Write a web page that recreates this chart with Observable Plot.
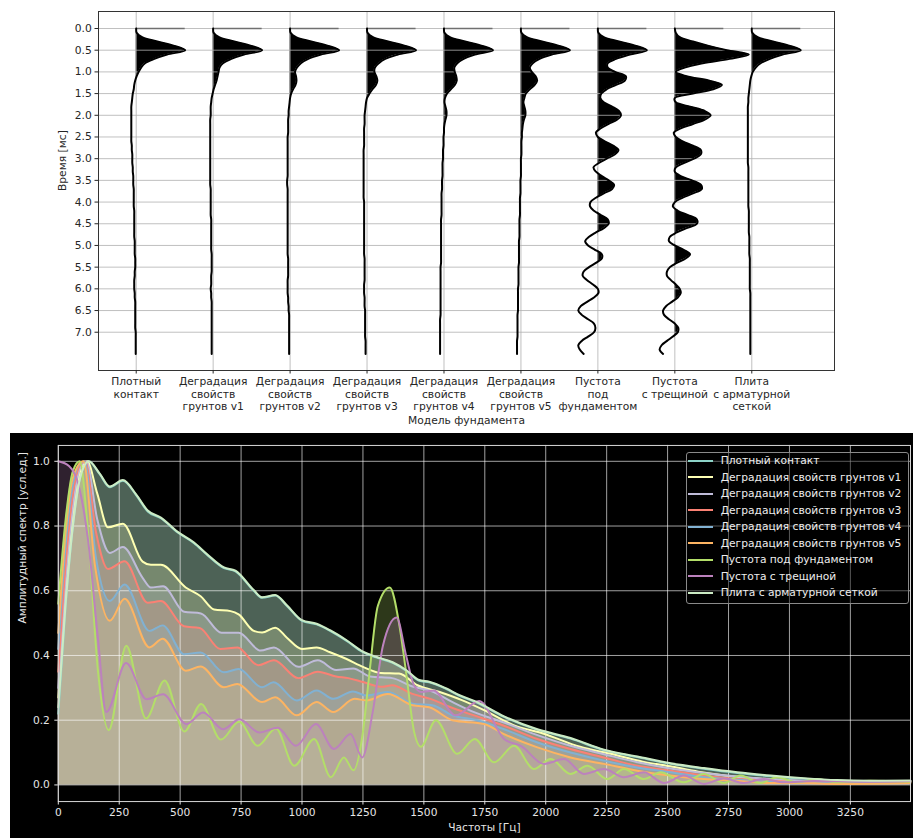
<!DOCTYPE html>
<html><head><meta charset="utf-8">
<script src="https://cdn.jsdelivr.net/npm/d3@7"></script>
<script src="https://cdn.jsdelivr.net/npm/@observablehq/plot@0.6"></script>
<style>
body{margin:0;background:#fff;font-family:"DejaVu Sans",sans-serif;}
#top{width:913px;height:433px;overflow:hidden;}
#bottomWrap{position:relative;width:913px;height:405px;background:#fff;overflow:hidden;}
#bottom{position:absolute;left:10px;top:0;width:903px;height:405px;background:#000;overflow:hidden;}
#legend{position:absolute;left:685.7px;top:18.7px;width:221px;height:148.5px;padding-bottom:2px;
  border:1px solid #8a8a8a;border-radius:3px;background:rgba(0,0,0,0.45);box-sizing:content-box;}
.row{height:16.5px;display:flex;align-items:center;font-size:10.7px;color:#eeeeee;white-space:nowrap;}
.sw{display:inline-block;width:24.4px;height:2px;margin-left:1.6px;margin-right:8px;}
</style></head>
<body>
<div id="top"></div>
<div id="bottomWrap"><div id="bottom"></div><div id="legend"></div></div>
<script>
// ---------- Top chart: wiggle traces ----------
const traceLabels = [
  "Плотный\nконтакт",
  "Деградация\nсвойств\nгрунтов v1",
  "Деградация\nсвойств\nгрунтов v2",
  "Деградация\nсвойств\nгрунтов v3",
  "Деградация\nсвойств\nгрунтов v4",
  "Деградация\nсвойств\nгрунтов v5",
  "Пустота\nпод\nфундаментом",
  "Пустота\nс трещиной",
  "Плита\nс арматурной\nсеткой"
];
const timeTicks = [0,0.5,1,1.5,2,2.5,3,3.5,4,4.5,5,5.5,6,6.5,7];
// time grid, ms (0.0 ... 7.5 step 0.1)
const time = d3.range(76).map(i => Math.round(i) / 10);
// amplitudes in % of the first arrival peak
const ampPlotny = [
  0,1,12,43,78,100,63,37,18,10,
  5,1,-2,-4,-5,-7,-8,-9,-10,-10,
  -10,-10,-10,-10,-10,-10,-10,-9,-9,-8,
  -8,-8,-7,-7,-6,-6,-6,-5,-5,-5,
  -5,-5,-4,-4,-4,-4,-4,-4,-4,-3,
  -3,-3,-3,-2,-2,-2,-3,-3,-4,-4,
  -4,-3,-3,-2,-2,-2,-2,-2,-2,-2,
  -1,-1,-1,-1,-1,-1];
const ampV1 = [
  0,1,12,43,78,100,63,37,20,13,
  11,9,7,4,1,-1,-3,-4,-5,-5,
  -5,-6,-6,-6,-6,-6,-6,-6,-6,-6,
  -6,-6,-6,-6,-6,-6,-6,-5,-5,-5,
  -5,-5,-5,-5,-4,-4,-4,-4,-4,-4,
  -4,-4,-3,-3,-3,-3,-3,-4,-4,-4,
  -5,-4,-4,-3,-3,-3,-3,-3,-3,-3,
  -3,-3,-3,-3,-3,-3];
const ampV2 = [
  0,1,12,43,78,100,63,37,22,14,
  10,12,13,11,6,2,0,-1,-2,-3,
  -3,-4,-4,-4,-4,-5,-5,-5,-5,-5,
  -5,-5,-5,-5,-5,-6,-6,-5,-5,-5,
  -5,-5,-5,-5,-5,-5,-5,-5,-5,-5,
  -5,-5,-5,-4,-4,-4,-4,-4,-5,-5,
  -5,-5,-4,-4,-3,-3,-2,-2,-2,-2,
  -2,-2,-2,-2,-2,-2];
const ampV3 = [
  0,1,12,43,78,100,63,37,24,16,
  15,19,21,18,11,5,0,-2,-3,-4,
  -5,-5,-5,-6,-6,-6,-6,-6,-7,-7,
  -7,-7,-7,-7,-7,-7,-7,-7,-7,-7,
  -6,-6,-6,-6,-6,-6,-6,-6,-6,-6,
  -6,-6,-6,-5,-5,-5,-5,-5,-5,-6,
  -6,-6,-5,-5,-5,-4,-4,-4,-4,-4,
  -4,-4,-3,-3,-3,-3];
const ampV4 = [
  0,1,12,43,78,100,63,40,27,21,
  22,25,26,22,14,6,2,1,3,5,
  5,3,1,0,0,-1,-1,-1,-2,-2,
  -2,-3,-3,-3,-3,-4,-4,-4,-5,-5,
  -5,-5,-5,-5,-6,-6,-6,-6,-6,-6,
  -6,-6,-6,-6,-6,-7,-7,-7,-7,-7,
  -7,-7,-7,-7,-7,-7,-7,-8,-8,-8,
  -8,-8,-8,-8,-8,-8];
const ampV5 = [
  0,1,12,43,78,100,63,38,24,18,
  22,30,33,28,18,10,7,5,7,9,
  9,6,4,3,2,2,1,1,1,1,
  0,0,0,0,0,-1,-1,-1,-1,-2,
  -2,-2,-2,-2,-3,-3,-3,-3,-3,-4,
  -4,-4,-4,-4,-4,-5,-5,-5,-5,-5,
  -6,-6,-6,-6,-6,-6,-7,-7,-7,-7,
  -7,-7,-8,-8,-8,-8];
const ampPustotaPod = [
  0,1,12,43,78,100,65,37,20,20,
  35,57,55,37,18,7,5,12,29,43,
  47,39,22,6,-4,0,14,31,42,35,
  18,2,-9,-4,8,22,33,29,12,-4,
  -15,-16,-8,6,20,22,12,-4,-18,-26,
  -20,-6,8,8,-4,-18,-29,-31,-22,-10,
  0,1,-8,-22,-35,-40,-33,-20,-8,-5,
  -8,-20,-33,-40,-37,-29];
const ampPustotaTresh = [
  0,2,10,37,69,106,151,112,57,20,
  2,24,69,96,78,37,0,2,31,61,
  73,61,37,12,-2,2,16,37,53,53,
  39,18,2,0,12,35,53,55,37,16,
  0,-4,6,27,45,45,24,4,-10,-12,
  0,18,31,22,4,-10,-16,-16,-8,2,
  10,12,6,-6,-18,-24,-22,-12,0,7,
  6,-4,-16,-27,-31,-24];
const ampPlita = [
  0,1,12,43,78,100,63,37,18,8,
  2,-1,-3,-4,-5,-6,-7,-7,-8,-8,
  -8,-8,-8,-8,-8,-8,-8,-8,-8,-8,
  -8,-8,-7,-7,-7,-7,-7,-7,-7,-7,
  -7,-7,-6,-6,-6,-6,-6,-6,-5,-5,
  -5,-5,-5,-4,-4,-4,-4,-4,-4,-4,
  -4,-3,-3,-3,-3,-3,-3,-3,-3,-3,
  -3,-3,-3,-3,-3,-3];
const traceAmps = [ampPlotny, ampV1, ampV2, ampV3, ampV4, ampV5, ampPustotaPod, ampPustotaTresh, ampPlita];
const AMPK = 49 / 76.95; // trace-spacing units per 100 %

const rows = traceAmps.flatMap((amps, k) => amps.map((a, j) => ({
  trace: k + 1, t: time[j], base: k + 1,
  xw: k + 1 + a / 100 * AMPK,
  xf: k + 1 + Math.max(a, 0) / 100 * AMPK
})));
const traceIdx = traceAmps.map((_, k) => k + 1);

const topChart = Plot.plot({
  width: 913, height: 433,
  marginLeft: 98, marginRight: 79, marginTop: 11, marginBottom: 63,
  style: {fontFamily: "DejaVu Sans", fontSize: "10.7px", color: "#262626", background: "#fff"},
  x: {domain: [0.51, 10.075]},
  y: {domain: [-0.392, 7.882], reverse: true},
  marks: [
    Plot.areaX(rows, {y: "t", x1: "base", x2: "xf", z: "trace", fill: "black", curve: "catmull-rom"}),
    Plot.gridY({ticks: timeTicks, stroke: "#b0b0b0", strokeOpacity: 1, strokeWidth: 0.8}),
    Plot.gridX({ticks: traceIdx, stroke: "#b0b0b0", strokeOpacity: 1, strokeWidth: 0.8}),
    Plot.ruleY(traceIdx, {y: 0, x1: d => d, x2: d => d + AMPK, stroke: "#707070", strokeWidth: 1.5}),
    Plot.line(rows, {x: "xw", y: "t", z: "trace", stroke: "black", strokeWidth: 2, curve: "catmull-rom"}),
    Plot.frame({stroke: "#333"}),
    Plot.axisY({ticks: timeTicks, tickFormat: d3.format(".1f"), tickSize: 3.5, tickPadding: 3.2, label: null}),
    Plot.axisX({ticks: traceIdx, tickFormat: d => traceLabels[d - 1], tickSize: 3.5, tickPadding: 2.5, lineHeight: 1.15, label: null}),
    Plot.text(["Время [мс]"], {text: d => d, frameAnchor: "left", dx: -36, rotate: -90, fill: "#262626"}),
    Plot.text(["Модель фундамента"], {text: d => d, frameAnchor: "bottom", dy: 53, fill: "#262626"})
  ]
});
document.getElementById("top").append(topChart);

// ---------- Bottom chart: amplitude spectra ----------
const seriesNames = [
  "Плотный контакт",
  "Деградация свойств грунтов v1",
  "Деградация свойств грунтов v2",
  "Деградация свойств грунтов v3",
  "Деградация свойств грунтов v4",
  "Деградация свойств грунтов v5",
  "Пустота под фундаментом",
  "Пустота с трещиной",
  "Плита с арматурной сеткой"
];
const seriesColors = ["#8dd3c7","#feffb3","#bfbbd9","#fa8174","#81b1d2","#fdb462","#b3de69","#bc82bd","#ccebc4"];
const freqTicks = [0,250,500,750,1000,1250,1500,1750,2000,2250,2500,2750,3000,3250];
const ampTicks = [0,0.2,0.4,0.6,0.8,1.0];

// [frequency Hz, amplitude]
const spPlotny = [[0,0.22],[30,0.55],[60,0.8],[90,0.95],[125,1.0],[170,0.96],[211,0.92],[265,0.94],[320,0.895],[367,0.845],[421,0.824],[490,0.78],[557,0.747],[612,0.71],[680,0.67],[727,0.66],[802,0.60],[836,0.578],[890,0.585],[938,0.553],[1000,0.507],[1060,0.496],[1115,0.476],[1183,0.445],[1250,0.41],[1304,0.394],[1372,0.377],[1427,0.353],[1481,0.322],[1522,0.317],[1590,0.297],[1644,0.276],[1712,0.256],[1829,0.21],[1966,0.17],[2102,0.143],[2239,0.107],[2376,0.086],[2513,0.065],[2649,0.05],[2786,0.037],[2923,0.027],[3059,0.019],[3196,0.013],[3332,0.011],[3496,0.012]];
const spV1 = [[0,0.27],[30,0.6],[60,0.84],[90,0.97],[118,1.0],[160,0.9],[204,0.796],[265,0.807],[346,0.69],[380,0.68],[421,0.68],[523,0.61],[584,0.583],[639,0.542],[707,0.537],[740,0.527],[802,0.476],[836,0.471],[890,0.486],[938,0.455],[1000,0.42],[1060,0.425],[1115,0.41],[1183,0.389],[1250,0.365],[1323,0.346],[1398,0.344],[1474,0.308],[1565,0.287],[1656,0.262],[1747,0.231],[1868,0.185],[1989,0.159],[2141,0.118],[2262,0.097],[2398,0.072],[2520,0.056],[2626,0.041],[2777,0.026],[2929,0.017],[3080,0.012],[3300,0.011],[3496,0.012]];
const spV2 = [[0,0.3],[30,0.63],[60,0.86],[90,0.98],[115,1.0],[160,0.82],[211,0.717],[265,0.735],[346,0.64],[380,0.61],[430,0.614],[516,0.535],[585,0.53],[670,0.47],[740,0.47],[830,0.415],[885,0.425],[985,0.365],[1065,0.385],[1140,0.355],[1210,0.36],[1280,0.335],[1370,0.33],[1450,0.305],[1530,0.29],[1620,0.255],[1693,0.229],[1829,0.193],[1966,0.154],[2102,0.121],[2239,0.095],[2376,0.07],[2512,0.051],[2649,0.037],[2785,0.026],[2922,0.018],[3059,0.013],[3300,0.01],[3496,0.011]];
const spV3 = [[0,0.35],[30,0.68],[60,0.9],[90,0.99],[110,1.0],[155,0.78],[204,0.667],[272,0.691],[367,0.563],[421,0.568],[516,0.49],[580,0.485],[665,0.42],[735,0.425],[820,0.37],[885,0.385],[985,0.33],[1065,0.35],[1140,0.335],[1190,0.33],[1250,0.318],[1330,0.303],[1370,0.308],[1450,0.282],[1530,0.265],[1610,0.24],[1693,0.218],[1829,0.183],[1966,0.142],[2102,0.111],[2239,0.085],[2376,0.059],[2512,0.044],[2649,0.029],[2785,0.018],[2922,0.013],[3059,0.008],[3300,0.007],[3496,0.009]];
const spV4 = [[0,0.42],[30,0.74],[60,0.93],[85,0.99],[107,1.0],[155,0.7],[211,0.568],[272,0.619],[374,0.476],[428,0.493],[516,0.404],[584,0.409],[679,0.348],[740,0.358],[836,0.302],[883,0.317],[978,0.261],[1060,0.292],[1128,0.266],[1209,0.289],[1264,0.276],[1352,0.287],[1454,0.251],[1535,0.246],[1617,0.215],[1719,0.2],[1829,0.172],[1966,0.131],[2102,0.1],[2239,0.075],[2376,0.054],[2512,0.039],[2649,0.024],[2785,0.016],[2922,0.01],[3059,0.007],[3300,0.006],[3496,0.008]];
const spV5 = [[0,0.47],[30,0.78],[60,0.95],[103,1.0],[150,0.68],[211,0.507],[272,0.575],[374,0.425],[428,0.452],[523,0.353],[584,0.366],[679,0.302],[734,0.312],[836,0.256],[890,0.271],[978,0.215],[1060,0.256],[1128,0.225],[1216,0.266],[1264,0.261],[1352,0.281],[1454,0.246],[1522,0.24],[1617,0.2],[1747,0.188],[1829,0.157],[1966,0.116],[2102,0.085],[2239,0.065],[2376,0.044],[2512,0.029],[2649,0.018],[2785,0.013],[2922,0.006],[3059,0.006],[3195,0.003],[3496,0.006]];
const spPustotaPod = [[0,0.56],[30,0.82],[60,0.97],[88,1.0],[120,0.8],[163,0.35],[207,0.169],[279,0.43],[360,0.205],[436,0.323],[517,0.165],[586,0.25],[667,0.14],[742,0.195],[818,0.121],[893,0.174],[968,0.059],[1050,0.142],[1118,0.024],[1172,0.085],[1211,0.045],[1250,0.164],[1277,0.348],[1311,0.553],[1360,0.61],[1400,0.491],[1427,0.348],[1460,0.164],[1488,0.118],[1549,0.2],[1637,0.096],[1709,0.142],[1788,0.07],[1870,0.121],[1952,0.049],[2020,0.08],[2102,0.034],[2171,0.059],[2253,0.018],[2321,0.049],[2403,0.018],[2471,0.039],[2567,0.008],[2649,0.034],[2731,0.006],[2799,0.029],[2881,0.006],[2949,0.024],[3031,0.008],[3113,0.018],[3195,0.008],[3332,0.013],[3496,0.01]];
const spPustotaTresh = [[0,1.0],[45,0.985],[82,0.93],[122,0.757],[163,0.45],[197,0.225],[278,0.377],[362,0.265],[430,0.28],[526,0.188],[594,0.224],[676,0.172],[743,0.203],[825,0.162],[900,0.177],[975,0.121],[1057,0.188],[1131,0.111],[1199,0.157],[1247,0.085],[1290,0.225],[1332,0.43],[1388,0.517],[1427,0.4],[1460,0.307],[1490,0.287],[1540,0.292],[1630,0.215],[1727,0.259],[1829,0.142],[1900,0.12],[1993,0.065],[2075,0.08],[2157,0.034],[2239,0.049],[2321,0.024],[2403,0.039],[2485,0.006],[2567,0.029],[2649,0.003],[2731,0.02],[2813,0.006],[2895,0.018],[2977,0.008],[3100,0.012],[3300,0.01],[3496,0.012]];
const spPlita = [[0,0.24],[30,0.56],[60,0.8],[90,0.95],[125,1.0],[170,0.962],[211,0.922],[265,0.942],[320,0.897],[367,0.848],[421,0.826],[490,0.782],[557,0.749],[612,0.712],[680,0.672],[727,0.662],[802,0.602],[836,0.58],[890,0.587],[938,0.555],[1000,0.509],[1060,0.498],[1115,0.478],[1183,0.447],[1250,0.412],[1304,0.396],[1372,0.379],[1427,0.355],[1481,0.324],[1522,0.319],[1590,0.299],[1644,0.278],[1712,0.258],[1829,0.212],[1966,0.172],[2102,0.145],[2239,0.109],[2376,0.088],[2513,0.067],[2649,0.052],[2786,0.039],[2923,0.029],[3059,0.021],[3196,0.015],[3332,0.013],[3496,0.014]];
const spectra = [spPlotny, spV1, spV2, spV3, spV4, spV5, spPustotaPod, spPustotaTresh, spPlita];
const specRows = spectra.map(s => s.map(([f, v]) => ({f, v})));

const bottomChart = Plot.plot({
  width: 907, height: 405,
  marginLeft: 48, marginRight: 3, marginTop: 12, marginBottom: 35.3,
  style: {fontFamily: "DejaVu Sans", fontSize: "10.7px", color: "#e6e6e6", background: "#000"},
  x: {domain: [0, 3496.7]},
  y: {domain: [-0.0514, 1.049]},
  marks: [
    ...specRows.map((r, k) => Plot.areaY(r, {x: "f", y: "v", fill: seriesColors[k], fillOpacity: 0.25, curve: "monotone-x"})),
    Plot.gridX({ticks: freqTicks, stroke: "#ffffff", strokeOpacity: 0.8, strokeWidth: 0.8}),
    Plot.gridY({ticks: ampTicks, stroke: "#ffffff", strokeOpacity: 0.8, strokeWidth: 0.8}),
    ...specRows.map((r, k) => Plot.line(r, {x: "f", y: "v", stroke: seriesColors[k], strokeWidth: 2, curve: "monotone-x"})),
    Plot.frame({stroke: "#d8d8d8", strokeWidth: 1}),
    Plot.axisX({ticks: freqTicks, tickFormat: d => String(d), tickSize: 3.5, tickPadding: 3.5, label: null}),
    Plot.axisY({ticks: ampTicks, tickFormat: d3.format(".1f"), tickSize: 3.5, tickPadding: 5, label: null}),
    Plot.text(["Частоты [Гц]"], {text: d => d, frameAnchor: "bottom", dy: 30, fill: "#e6e6e6"}),
    Plot.text(["Амплитудный спектр [усл.ед.]"], {text: d => d, frameAnchor: "left", dx: -36, rotate: -90, fill: "#e6e6e6"})
  ]
});
document.getElementById("bottom").append(bottomChart);

// legend
const legend = document.getElementById("legend");
seriesNames.forEach((name, k) => {
  const row = document.createElement("div");
  row.className = "row";
  const sw = document.createElement("span");
  sw.className = "sw";
  sw.style.background = seriesColors[k];
  const tx = document.createElement("span");
  tx.textContent = name;
  row.append(sw, tx);
  legend.append(row);
});
</script>
</body></html>
